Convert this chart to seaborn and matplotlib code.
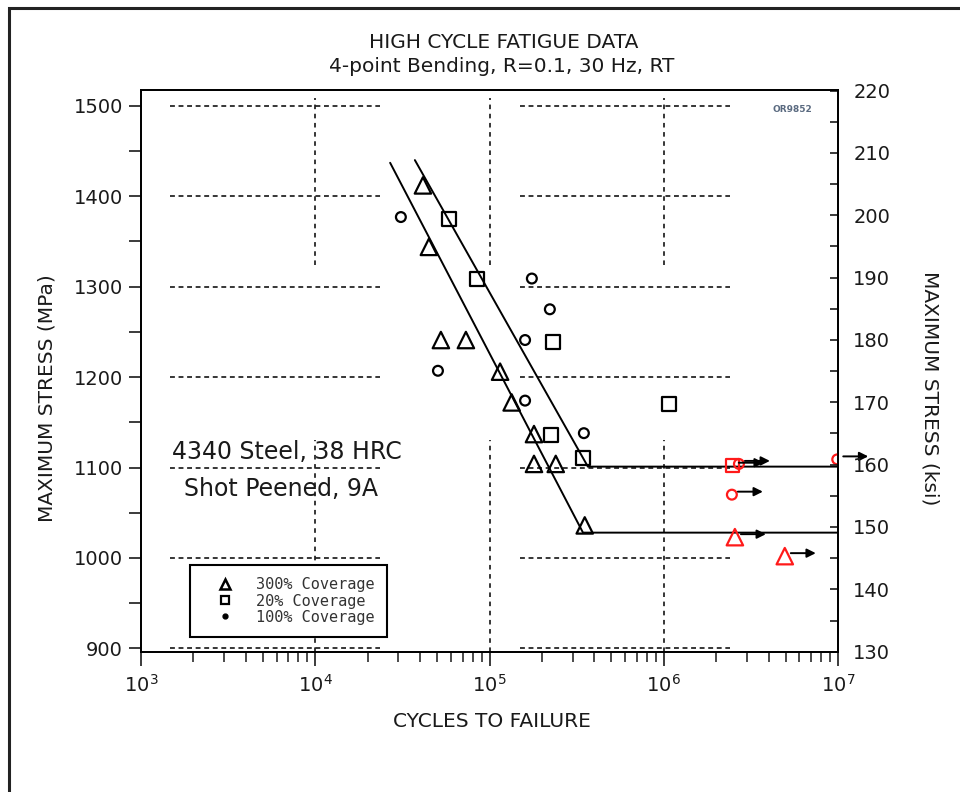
import numpy as np
import pandas as pd
import matplotlib
matplotlib.use("Agg")
import matplotlib.pyplot as plt
import seaborn as sns
from matplotlib.lines import Line2D
from matplotlib.patches import Rectangle
from matplotlib.transforms import offset_copy
from matplotlib.ticker import LogLocator, MultipleLocator, NullFormatter

# ---------------- data (cycles to failure, max stress MPa) ----------------
tri_N = [41500, 44900, 52600, 73200, 115000, 134000, 180000, 180000, 240000, 352000]
tri_S = [1412, 1344, 1241, 1241, 1206, 1172, 1137, 1104, 1104, 1036]
sq_N = [58500, 84800, 231000, 225000, 343000, 1070000]
sq_S = [1375, 1308, 1239, 1136, 1111, 1170]
circ_N = [31000, 175000, 222000, 160000, 50600, 160000, 348000]
circ_S = [1377, 1309, 1275, 1241, 1207, 1174, 1138]

# run-outs (red, with arrows)
run_tri_N = [2.56e6, 4.95e6]
run_tri_S = [1023, 1002]
run_sq_N = [2.49e6]
run_sq_S = [1102]
run_circ_N = [2.70e6, 2.46e6, 9.9e6]
run_circ_S = [1104, 1070, 1109]

# fitted S-N curves
fit300_N = [26900, 344000, 1e7]
fit300_S = [1437, 1028, 1028]
fit20_N = [37300, 367000, 1e7]
fit20_S = [1440, 1101, 1101]

legend_labels = ["300% Coverage", "20% Coverage", "100% Coverage"]
MPA_PER_KSI = 6.895

# ---------------- style ----------------
sns.set_theme(style="white")
plt.rcParams["font.family"] = ["DejaVu Sans"]
plt.rcParams["text.color"] = "#1a1a1a"
plt.rcParams["axes.labelcolor"] = "#1a1a1a"
plt.rcParams["xtick.color"] = "#1a1a1a"
plt.rcParams["ytick.color"] = "#1a1a1a"
plt.rcParams["axes.edgecolor"] = "black"
plt.rcParams["axes.linewidth"] = 1.2

fig = plt.figure(figsize=(9.6, 7.92), dpi=100)
ax = fig.add_axes([141 / 960, 1 - 652 / 792, 697 / 960, 562 / 792])
ax.set_xscale("log")
ax.set_xlim(1e3, 1e7)
ax.set_ylim(896, 1517.5)

# partial dashed grid like the original
dash = (0, (3.2, 2.4))
for s in range(900, 1501, 100):
    ax.hlines([s, s], [1466, 149000], [23500, 2.39e6], colors="black",
              linestyles=dash, lw=1.1, zorder=1)
ax.vlines([1e4, 1e5, 1e6], 1324, 1509, colors="black", linestyles=(0, (3, 3)), lw=1.1, zorder=1)
ax.vlines([1e4, 1e5, 1e6], 896, 1130, colors="black", linestyles=(0, (3, 3)), lw=1.1, zorder=1)

# fit lines
sns.lineplot(x=fit300_N, y=fit300_S, ax=ax, color="black", lw=1.4, sort=False,
             estimator=None, zorder=3)
sns.lineplot(x=fit20_N, y=fit20_S, ax=ax, color="black", lw=1.4, sort=False,
             estimator=None, zorder=3)

# failures
sns.scatterplot(x=tri_N, y=tri_S, ax=ax, marker="^", s=140, facecolor="none",
                edgecolor="black", linewidth=1.6, zorder=4)
sns.scatterplot(x=sq_N, y=sq_S, ax=ax, marker="s", s=100, facecolor="none",
                edgecolor="black", linewidth=1.6, zorder=4)
sns.scatterplot(x=circ_N, y=circ_S, ax=ax, marker="o", s=50, facecolor="none",
                edgecolor="black", linewidth=1.6, zorder=4)

# run-outs
red = "#ff1a1a"
sns.scatterplot(x=run_tri_N, y=run_tri_S, ax=ax, marker="^", s=140, facecolor="none",
                edgecolor=red, linewidth=1.6, zorder=5)
sns.scatterplot(x=run_sq_N, y=run_sq_S, ax=ax, marker="s", s=90, facecolor="none",
                edgecolor=red, linewidth=1.6, zorder=5)
sns.scatterplot(x=run_circ_N, y=run_circ_S, ax=ax, marker="o", s=50,
                facecolor="none", edgecolor=red, linewidth=1.6, zorder=5)
for coll in ax.collections:
    coll.set_clip_on(True)
    coll.set_clip_box(ax.bbox)

for n, s in zip(run_tri_N + run_sq_N + run_circ_N, run_tri_S + run_sq_S + run_circ_S):
    tail = offset_copy(ax.transData, fig=fig, x=6, y=3, units="dots")
    head = offset_copy(ax.transData, fig=fig, x=31, y=3, units="dots")
    ax.annotate("", xy=(n, s), xycoords=head, xytext=(n, s), textcoords=tail,
                arrowprops=dict(arrowstyle="-|>", color="black", lw=1.4,
                                mutation_scale=13, shrinkA=0, shrinkB=0),
                zorder=6)

# axes ticks
ax.xaxis.set_major_locator(LogLocator(base=10, numticks=10))
ax.xaxis.set_minor_locator(LogLocator(base=10, subs=np.arange(2, 10), numticks=20))
ax.xaxis.set_minor_formatter(NullFormatter())
ax.yaxis.set_major_locator(MultipleLocator(100))
ax.yaxis.set_minor_locator(MultipleLocator(50))
ax.tick_params(axis="x", which="major", direction="out", length=10, width=1.2,
               labelsize=14, pad=6, bottom=True)
ax.tick_params(axis="x", which="minor", direction="out", length=7, width=1.1, bottom=True)
ax.tick_params(axis="y", which="both", direction="out", length=9, width=1.2,
               labelsize=14, pad=4, left=True)

ax.set_xlabel("CYCLES TO FAILURE", fontsize=14.5)
ax.xaxis.set_label_coords((492 - 141) / 697, (652 - 712) / 562)
ax.set_ylabel("MAXIMUM STRESS (MPa)", fontsize=14.5)
ax.yaxis.set_label_coords((57 - 141) / 697, (652 - 398) / 562)

# right ksi axis
ax2 = ax.twinx()
ax2.set_ylim(896 / MPA_PER_KSI, 1517.5 / MPA_PER_KSI)
ax2.yaxis.set_major_locator(MultipleLocator(10))
ax2.yaxis.set_minor_locator(MultipleLocator(5))
ax2.tick_params(axis="y", which="both", direction="in", length=6, width=1.2,
                labelsize=14, pad=11, right=True)
ax2.set_ylabel("MAXIMUM STRESS (ksi)", fontsize=14.5, rotation=270, va="bottom")
ax2.yaxis.set_label_coords((921 - 141) / 697, (652 - 388) / 562)
ax2.grid(False)
ax.grid(False)
for sp in list(ax.spines.values()) + list(ax2.spines.values()):
    sp.set_linewidth(1.3)
    sp.set_color("black")

# legend
handles = [
    Line2D([], [], marker="^", ls="none", mfc="none", mec="black", mew=1.8, ms=7),
    Line2D([], [], marker="s", ls="none", mfc="none", mec="black", mew=1.6, ms=6),
    Line2D([], [], marker="o", ls="none", mfc="black", mec="black", ms=3.5),
]
leg = ax.legend(handles, legend_labels, loc="lower left",
                bbox_to_anchor=((190 - 141) / 697, (652 - 637) / 562),
                borderaxespad=0, frameon=True, fancybox=False, framealpha=1,
                edgecolor="black", prop={"family": "DejaVu Sans Mono", "size": 11},
                handlelength=3.0, handletextpad=0.5, labelspacing=0.08,
                borderpad=0.8)
leg.get_frame().set_linewidth(1.5)
leg.set_zorder(7)
for t in leg.get_texts():
    t.set_color("#333333")

# annotations
fig.text(172 / 960, 1 - 452 / 792, "4340 Steel, 38 HRC", fontsize=17,
         ha="left", va="center")
fig.text(184 / 960, 1 - 489 / 792, "Shot Peened, 9A", fontsize=17,
         ha="left", va="center")
fig.text(792 / 960, 1 - 110 / 792, "OR9852", fontsize=6.5, color="#5a6a80",
         weight="bold", ha="center", va="center")

# titles
fig.text(504 / 960, 1 - 43 / 792, "HIGH CYCLE FATIGUE DATA", fontsize=14.5,
         ha="center", va="center")
fig.text(502 / 960, 1 - 66 / 792, "4-point Bending, R=0.1, 30 Hz, RT", fontsize=14.5,
         ha="center", va="center")

# outer frame of the page
fig.add_artist(Rectangle((9 / 960, -0.1), 1.2, 1.1 - 8 / 792,
                         transform=fig.transFigure, fill=False, lw=2.2,
                         edgecolor="#222222", clip_on=False))

fig.savefig("out.png", dpi=100)
